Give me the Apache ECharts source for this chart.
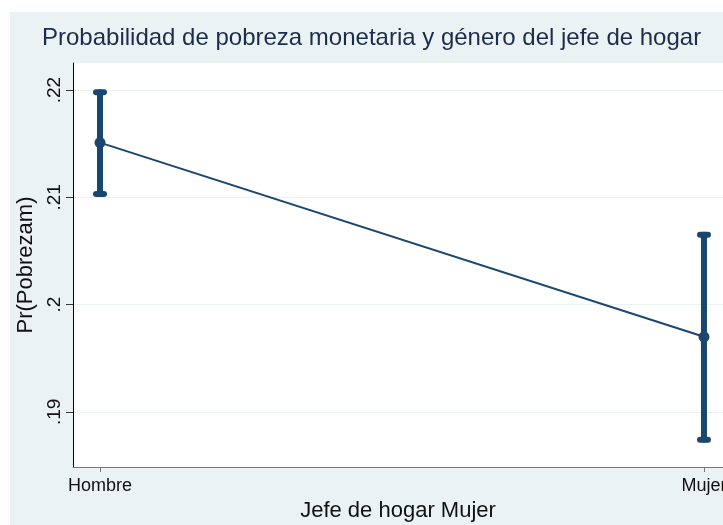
<!DOCTYPE html>
<html>
<head>
<meta charset="utf-8">
<title>Probabilidad de pobreza</title>
<script src="https://cdn.jsdelivr.net/npm/echarts@6/dist/echarts.min.js"></script>
<style>
  html, body { margin: 0; padding: 0; background: #ffffff; }
  #main { width: 723px; height: 525px; }
</style>
</head>
<body>
<div id="main"></div>
<script type="text/javascript">
// datos (margins de Stata)
var categorias = ['Hombre', 'Mujer'];
var prob = [0.2151, 0.1970];
var ciBajo = [0.2103, 0.1874];
var ciAlto = [0.2198, 0.2065];
var yTicks = [0.19, 0.2, 0.21, 0.22];

var azul = '#1a476f';
var fondo = '#eaf2f3';
var fuente = 'Liberation Sans, Arial, sans-serif';

var myChart = echarts.init(document.getElementById('main'));

var puntos = prob.map(function (v, i) { return [i, v]; });
var barras = prob.map(function (v, i) { return [i, ciBajo[i], ciAlto[i]]; });

var option = {
    backgroundColor: '#ffffff',
    animation: false,
    textStyle: { fontFamily: fuente },
    graphic: [{
        type: 'rect', z: -10, silent: true,
        shape: { x: 10, y: 12, width: 713, height: 513 },
        style: { fill: fondo }
    }],
    title: {
        text: 'Probabilidad de pobreza monetaria y género del jefe de hogar',
        left: 37, top: 21,
        textStyle: { color: '#1c2c4c', fontSize: 24, fontWeight: 'normal', fontFamily: fuente }
    },
    grid: {
        left: 73, right: 0, top: 63, bottom: 58,
        outerBoundsMode: 'none', containLabel: false,
        show: true, backgroundColor: '#ffffff', borderWidth: 0
    },
    xAxis: {
        type: 'value',
        min: -0.0447, max: 1.0315,
        name: 'Jefe de hogar Mujer',
        nameLocation: 'middle', nameGap: 31,
        nameTextStyle: { color: '#111', fontSize: 22 },
        axisLine: { show: true, onZero: false, lineStyle: { color: '#777', width: 1 } },
        axisTick: { show: true, length: 5, customValues: [0, 1], lineStyle: { color: '#777' } },
        axisLabel: {
            customValues: [0, 1], margin: 10, fontSize: 18, color: '#111',
            formatter: function (v) { return categorias[Math.round(v)]; }
        },
        splitLine: { show: false }
    },
    yAxis: {
        type: 'value',
        min: 0.18486, max: 0.22252,
        name: 'Pr(Pobrezam)',
        nameLocation: 'middle', nameGap: 30, nameRotate: 90,
        nameTextStyle: { color: '#111', fontSize: 22 },
        axisLine: { show: true, onZero: false, lineStyle: { color: '#000', width: 1 } },
        axisTick: { show: true, length: 7, customValues: yTicks, lineStyle: { color: '#333' } },
        axisLabel: {
            customValues: yTicks, rotate: 90, margin: 9, fontSize: 19, color: '#111',
            formatter: function (v) { return String(+v.toFixed(2)).replace(/^0\./, '.'); }
        },
        splitLine: { show: true, customValues: yTicks, lineStyle: { color: fondo, width: 1 } }
    },
    series: [
        {
            type: 'custom',
            data: barras,
            z: 3,
            renderItem: function (params, api) {
                var x = api.value(0);
                var lo = api.coord([x, api.value(1)]);
                var hi = api.coord([x, api.value(2)]);
                var w = 4;
                var st = { stroke: azul, lineWidth: 6, lineCap: 'round' };
                return {
                    type: 'group',
                    children: [
                        { type: 'line', shape: { x1: lo[0], y1: lo[1], x2: hi[0], y2: hi[1] }, style: st },
                        { type: 'line', shape: { x1: lo[0] - w, y1: lo[1], x2: lo[0] + w, y2: lo[1] }, style: st },
                        { type: 'line', shape: { x1: hi[0] - w, y1: hi[1], x2: hi[0] + w, y2: hi[1] }, style: st }
                    ]
                };
            }
        },
        {
            type: 'line',
            data: puntos,
            z: 4,
            symbol: 'circle', symbolSize: 11,
            lineStyle: { color: azul, width: 2 },
            itemStyle: { color: azul }
        }
    ]
};

myChart.setOption(option);
</script>
</body>
</html>
